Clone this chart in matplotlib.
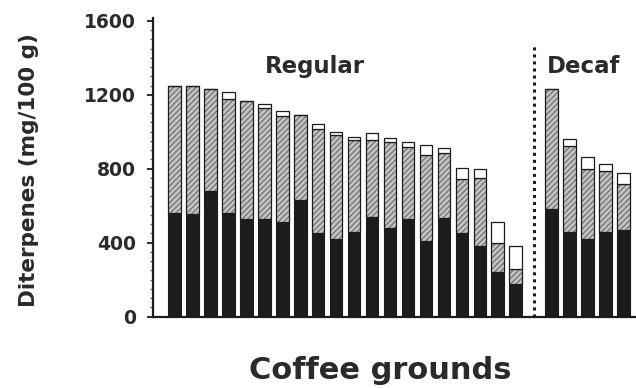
import matplotlib
matplotlib.use("Agg")
import matplotlib.pyplot as plt
from matplotlib.ticker import MultipleLocator
import numpy as np

# diterpene content per coffee sample, mg/100 g (three stacked components)
regular_black = [560, 554, 677, 560, 527, 527, 513, 632, 451, 422,
                 459, 541, 479, 527, 410, 533, 451, 383, 240, 175]
regular_hatch = [690, 696, 556, 617, 637, 601, 570, 456, 563, 558,
                 494, 412, 463, 390, 464, 352, 293, 369, 161, 85]
regular_white = [0, 0, 0, 36, 0, 23, 30, 0, 29, 21,
                 18, 38, 22, 27, 54, 27, 59, 49, 112, 124]

decaf_black = [581, 460, 421, 457, 469]
decaf_hatch = [650, 464, 377, 332, 248]
decaf_white = [0, 36, 63, 36, 62]

yticks = [0, 400, 800, 1200, 1600]

black = np.array(regular_black + decaf_black)
hatch = np.array(regular_hatch + decaf_hatch)
white = np.array(regular_white + decaf_white)
n_reg = len(regular_black)
x = np.concatenate([np.arange(n_reg), np.arange(len(decaf_black)) + n_reg + 1])
sep = n_reg  # dotted separator position

plt.rcParams["hatch.linewidth"] = 0.8

fig = plt.figure(figsize=(6.36, 3.88), dpi=100)
ax = fig.add_axes([153/636, 1 - 316.7/388, (636 - 153)/636, (316.7 - 18)/388])

w = 0.70
dark = "#1c1c1c"
ax.bar(x, black, width=w, color=dark, edgecolor=dark, linewidth=0.8, zorder=2)
# hatched part: gray hatch drawn first, then black outline on top
ax.bar(x, hatch, width=w, bottom=black, color="#c2c2c2", edgecolor="#6a6a6a",
       hatch="//////", linewidth=0, zorder=2)
ax.bar(x, hatch, width=w, bottom=black, fill=False, edgecolor=dark,
       linewidth=0.9, zorder=3)
ax.bar(x, white, width=w, bottom=black + hatch, color="white", edgecolor=dark,
       linewidth=0.9, zorder=3)

ax.axvline(sep, ymax=0.905, color=dark, linestyle=(0, (1, 1.3)), linewidth=2.2, zorder=1)

ax.set_xlim(-1.2, 25.7)
ax.set_ylim(0, 1615)
ax.set_yticks(yticks)
ax.yaxis.set_minor_locator(MultipleLocator(50))
ax.set_xticks([])
for s in ["top", "right"]:
    ax.spines[s].set_visible(False)
for s in ["left", "bottom"]:
    ax.spines[s].set_linewidth(1.6)
    ax.spines[s].set_color(dark)
ax.tick_params(axis="y", which="major", length=4.3, width=1.3, pad=8,
               labelsize=13.5, colors=dark)
ax.tick_params(axis="y", which="minor", length=2.2, width=0.9, colors="#555")
for lab in ax.get_yticklabels():
    lab.set_fontweight("bold")
    lab.set_family("DejaVu Sans")
    lab.set_color("#2a2a2a")

fig.text(29/636, 1 - 170/388, "Diterpenes (mg/100 g)", rotation=90,
         ha="center", va="center", fontsize=15.5, fontweight="bold", color="#2a2a2a")
fig.text(380/636, 1 - 379/388, "Coffee grounds", ha="center", va="baseline",
         fontsize=22, fontweight="bold", color="#2a2a2a")
fig.text(314.5/636, 1 - 72.7/388, "Regular", ha="center", va="baseline",
         fontsize=16.5, fontweight="bold", color="#2a2a2a")
fig.text(584/636, 1 - 72.7/388, "Decaf", ha="center", va="baseline",
         fontsize=16.5, fontweight="bold", color="#2a2a2a")

fig.savefig("out.png", dpi=100)
